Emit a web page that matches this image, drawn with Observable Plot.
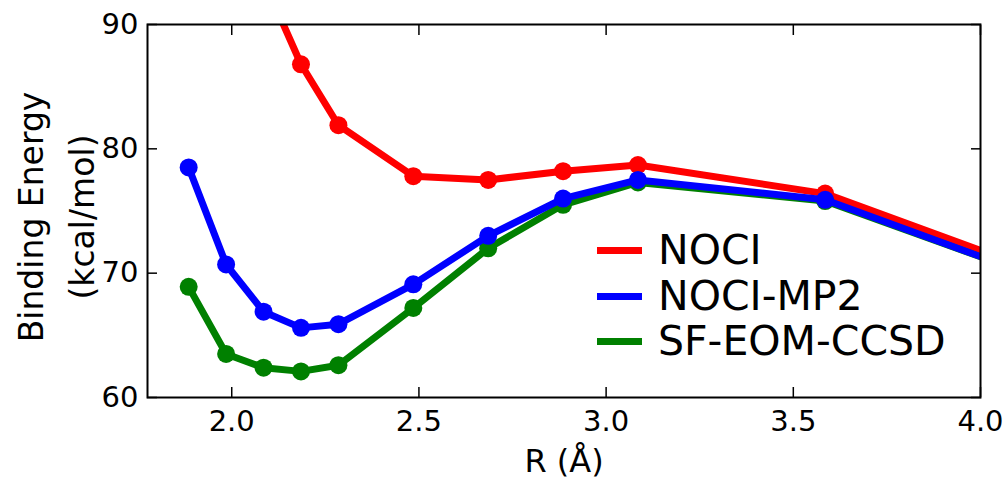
<!DOCTYPE html>
<html><head><meta charset="utf-8">
<script src="https://cdn.jsdelivr.net/npm/d3@7"></script>
<script src="https://cdn.jsdelivr.net/npm/@observablehq/plot@0.6"></script>
<style>
body{margin:0;background:#fff;}
#wrap{position:relative;width:1005px;height:481px;font-family:"DejaVu Sans",sans-serif;}
#legend{position:absolute;left:597px;top:228px;}
.row{display:flex;align-items:center;height:45.5px;font-size:41px;line-height:45.5px;color:#000;}
.sw{width:45px;height:7px;margin-right:16px;}
</style></head><body><div id="wrap"><div id="legend"></div></div>
<script>
// Data
const R = [1.885, 1.985, 2.085, 2.185, 2.285, 2.485, 2.685, 2.885, 3.085, 3.585, 4.085];
const noci = [112.0, 101.0, 93.6, 86.8, 81.9, 77.8, 77.5, 78.2, 78.7, 76.4, 70.9];
const nociMP2 = [78.5, 70.7, 66.9, 65.6, 65.9, 69.1, 73.0, 76.0, 77.5, 75.9, 70.4];
const sfEomCcsd = [68.9, 63.5, 62.4, 62.1, 62.6, 67.2, 72.0, 75.5, 77.3, 75.8, 70.4];
const seriesNames = ["NOCI", "NOCI-MP2", "SF-EOM-CCSD"];
const seriesColors = ["#ff0000", "#0000ff", "#008000"];
const xTicks = [2.0, 2.5, 3.0, 3.5, 4.0];
const yTicks = [60, 70, 80, 90];

const allVals = [noci, nociMP2, sfEomCcsd];
const rowsOf = (k) => R.map((r, i) => ({R: r, E: allVals[k][i], s: seriesNames[k]}));
const drawOrder = [0, 2, 1];

const marks = [];
for (const k of drawOrder) {
  const d = rowsOf(k);
  marks.push(Plot.line(d, {x: "R", y: "E", stroke: seriesColors[k], strokeWidth: 7, clip: true}));
  marks.push(Plot.dot(d, {x: "R", y: "E", fill: seriesColors[k], r: 9, clip: true}));
}

const tickStyle = {stroke: "#000", strokeWidth: 1.5};
const chart = Plot.plot({
  width: 1005,
  height: 481,
  marginLeft: 147,
  marginRight: 25,
  marginTop: 24,
  marginBottom: 84,
  style: {fontFamily: "DejaVu Sans", fontSize: "29px", color: "#000", background: "#fff"},
  x: {domain: [1.775, 4.0]},
  y: {domain: [60, 90]},
  marks: [
    ...marks,
    Plot.axisX({ticks: xTicks, tickSize: -10, tickPadding: 23, tickFormat: d3.format(".1f"), label: null, ...tickStyle}),
    Plot.axisX({anchor: "top", ticks: xTicks, tickSize: -10, tickFormat: () => "", label: null, ...tickStyle}),
    Plot.axisY({ticks: yTicks, tickSize: -10, tickPadding: 19, tickFormat: d3.format("d"), label: null, ...tickStyle}),
    Plot.axisY({anchor: "right", ticks: yTicks, tickSize: -10, tickFormat: () => "", label: null, ...tickStyle}),
    Plot.frame({stroke: "#000", strokeWidth: 2}),
    Plot.text(["R (Å)"], {frameAnchor: "bottom", dy: 64, fontSize: 32, lineAnchor: "middle", fill: "#000"}),
    Plot.text(["Binding Energy\n(kcal/mol)"], {frameAnchor: "left", rotate: -90, textAnchor: "middle", dx: -95, dy: 6, fontSize: 33, lineHeight: 1.55, lineAnchor: "middle", fill: "#000"})
  ]
});
document.getElementById("wrap").prepend(chart);

const legend = document.getElementById("legend");
seriesNames.forEach((name, k) => {
  const row = document.createElement("div");
  row.className = "row";
  const sw = document.createElement("div");
  sw.className = "sw";
  sw.style.background = seriesColors[k];
  const t = document.createElement("span");
  t.textContent = name;
  row.append(sw, t);
  legend.append(row);
});
</script>
</body></html>
